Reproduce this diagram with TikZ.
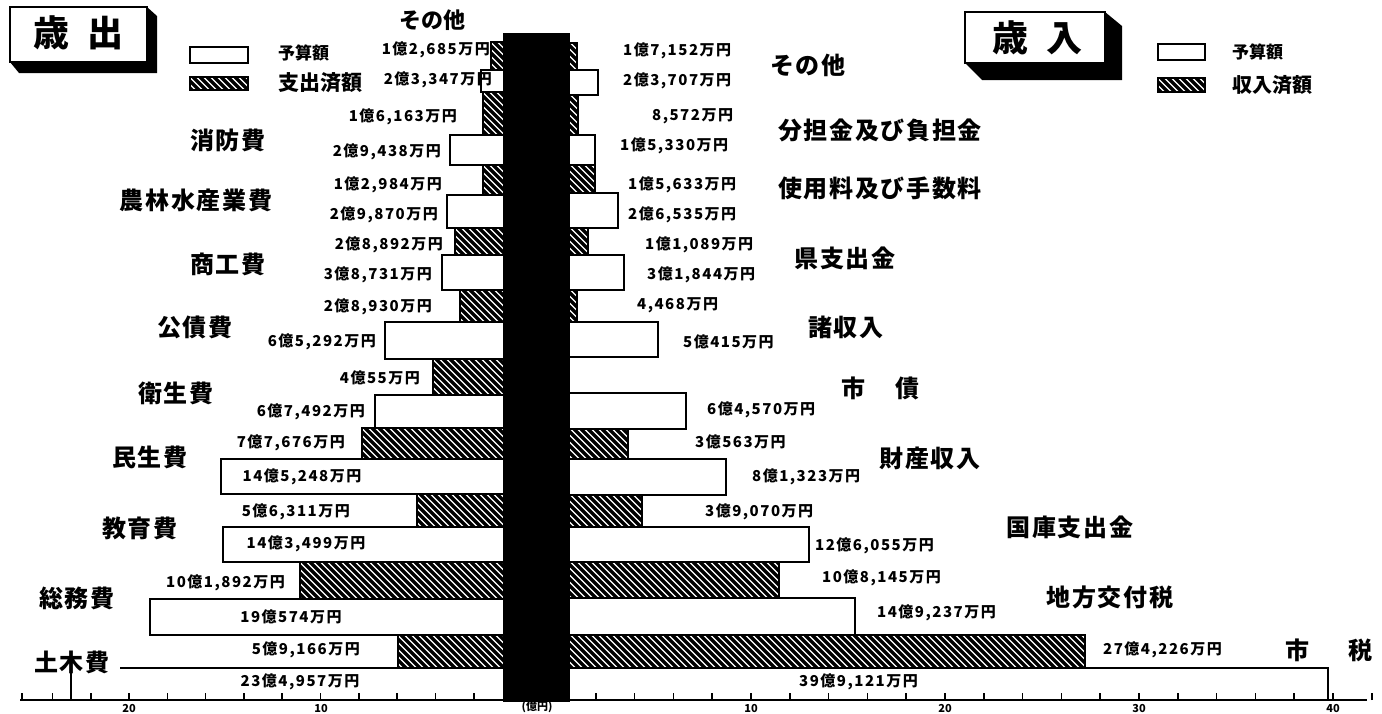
\documentclass[tikz,border=0pt]{standalone}
\usepackage{fontspec}
\setmainfont{Noto Sans CJK JP}
\begin{document}
\begin{tikzpicture}[x=1pt,y=-1pt,
  barline/.style={line width=2.4pt, line join=miter},
  hatchline/.style={line width=3.4pt},
  val/.style={font=\bfseries\fontsize{15}{15}\selectfont\addfontfeatures{LetterSpace=10}, inner sep=0pt},
  cat/.style={font=\bfseries\fontsize{24}{24}\selectfont\addfontfeatures{LetterSpace=7}, inner sep=0pt},
  leg/.style={font=\bfseries\fontsize{17}{17}\selectfont, inner sep=0pt, anchor=west},
  axl/.style={font=\bfseries\fontsize{11}{11}\selectfont, inner sep=0pt, anchor=south},
  ttl/.style={font=\bfseries\fontsize{36}{36}\selectfont, inner sep=0pt}]
\useasboundingbox (0,0) rectangle (1382,713);
\clip (0,0) rectangle (1382,713);
\fill[white] (0,0) rectangle (1382,713);
\newcommand\hatchbox[4]{%
  \pgfmathtruncatemacro\hbA{#1-46}\pgfmathtruncatemacro\hbB{\hbA+7}\pgfmathtruncatemacro\hbC{#3}%
  \begin{scope}
    \clip (#1,#2) rectangle (#3,#4);
    \fill[white] (#1,#2) rectangle (#3,#4);
    \foreach \s in {\hbA,\hbB,...,\hbC} \draw[hatchline] (\s,#2) -- ++(46,46);
  \end{scope}
  \draw[barline] (#1,#2) rectangle (#3,#4);}
\newcommand\whitebox[4]{\draw[barline,fill=white] (#1,#2) rectangle (#3,#4);}
% ---- title boxes
\fill (147,7) -- (157,16) -- (157,73) -- (19,73) -- (10,62) -- (147,62) -- cycle;
\draw[barline,fill=white] (10,7) rectangle (147,62);
\node[ttl] (tout) at (78,33) {歳\hspace{18pt}出};
\fill (1105,12) -- (1122,26) -- (1122,80) -- (982,80) -- (965,63) -- (1105,63) -- cycle;
\draw[barline,fill=white] (965,12) rectangle (1105,63);
\node[ttl] (tin) at (1037,38) {歳\hspace{18pt}入};
% ---- legends
\whitebox{190}{47}{248}{63}
\hatchbox{190}{77}{248}{90}
\node[leg] (lg1) at (278,53) {予算額};
\node[leg,font=\bfseries\fontsize{21}{21}\selectfont] (lg2) at (278,83) {支出済額};
\whitebox{1158}{44}{1205}{60}
\hatchbox{1158}{78}{1205}{92}
\node[leg] (rg1) at (1232,52) {予算額};
\node[leg,font=\bfseries\fontsize{20}{20}\selectfont] (rg2) at (1232,85) {収入済額};
% ---- left bars (expenditure)
\hatchbox{491}{42}{520}{70}
\whitebox{481}{70}{520}{92}
\hatchbox{483}{92}{520}{135}
\whitebox{450}{135}{520}{165}
\hatchbox{483}{165}{520}{195}
\whitebox{447}{195}{520}{228}
\hatchbox{455}{228}{520}{255}
\whitebox{442}{255}{520}{290}
\hatchbox{460}{290}{520}{322}
\whitebox{385}{322}{520}{359}
\hatchbox{433}{359}{520}{395}
\whitebox{375}{395}{520}{428}
\hatchbox{362}{428}{520}{459}
\whitebox{221}{459}{520}{494}
\hatchbox{417}{494}{520}{527}
\whitebox{223}{527}{520}{562}
\hatchbox{300}{562}{520}{599}
\whitebox{150}{599}{520}{635}
\hatchbox{398}{635}{520}{668}
\draw[barline] (120,668) -- (520,668);
% ---- right bars (revenue)
\hatchbox{550}{43}{577}{70}
\whitebox{550}{70}{598}{95}
\hatchbox{550}{95}{578}{135}
\whitebox{550}{135}{595}{165}
\hatchbox{550}{165}{595}{193}
\whitebox{550}{193}{618}{228}
\hatchbox{550}{228}{588}{255}
\whitebox{550}{255}{624}{290}
\hatchbox{550}{290}{577}{322}
\whitebox{550}{322}{658}{357}
\whitebox{550}{393}{686}{429}
\hatchbox{550}{429}{628}{459}
\whitebox{550}{459}{726}{495}
\hatchbox{550}{495}{642}{527}
\whitebox{550}{527}{809}{562}
\hatchbox{550}{562}{779}{598}
\whitebox{550}{598}{855}{635}
\hatchbox{550}{635}{1085}{668}
\draw[barline] (550,668) -- (1328,668) -- (1328,700);
% ---- central black bar
\fill (503,33) rectangle (570,702);
% ---- axis
\draw[line width=2.2pt] (20,700) -- (1367,700);
\foreach \k in {2,4,...,24} \draw[line width=1.6pt] ({512-19.15*\k},700) -- ++(0,-7);
\foreach \k in {2,4,...,42} \draw[line width=1.6pt] ({557+19.4*\k},700) -- ++(0,-7);
\draw[line width=1.6pt] (22,700) -- ++(0,-7);
\draw[line width=1.6pt] (71,672) -- (71,700);
\node[axl] (a1) at (129,713) {20};
\node[axl] (a2) at (321,713) {10};
\node[axl] (a3) at (537,713) {(億円)};
\node[axl] (a4) at (751,713) {10};
\node[axl] (a5) at (945,713) {20};
\node[axl] (a6) at (1139,713) {30};
\node[axl] (a7) at (1333,713) {40};
% ---- category labels, left
\node[cat,font=\bfseries\fontsize{22}{22}\selectfont] (c0) at (432,20) {その他};
\node[cat] (c1) at (228,140) {消防費};
\node[cat] (c2) at (196,200) {農林水産業費};
\node[cat] (c3) at (228,264) {商工費};
\node[cat] (c4) at (195,327) {公債費};
\node[cat] (c5) at (176,393) {衛生費};
\node[cat] (c6) at (150,457) {民生費};
\node[cat] (c7) at (140,528) {教育費};
\node[cat] (c8) at (77,598) {総務費};
\node[cat] (c9) at (72,662) {土木費};
% ---- category labels, right
\node[cat] (d0) at (808,65) {その他};
\node[cat] (d1) at (880,130) {分担金及び負担金};
\node[cat] (d2) at (880,188) {使用料及び手数料};
\node[cat] (d3) at (845,258) {県支出金};
\node[cat] (d4) at (846,327) {諸収入};
\node[cat] (d5) at (880,388) {市\hspace{30pt}債};
\node[cat] (d6) at (930,458) {財産収入};
\node[cat] (d7) at (1070,527) {国庫支出金};
\node[cat] (d8) at (1110,597) {地方交付税};
\node[cat] (d9) at (1329,650) {市\hspace{40pt}税};
% ---- value labels, left
\node[val,anchor=east] (l1) at (490,50) {1億2,685万円};
\node[val,anchor=east] (l2) at (492,80) {2億3,347万円};
\node[val,anchor=east] (l3) at (457,117) {1億6,163万円};
\node[val,anchor=east] (l4) at (441,152) {2億9,438万円};
\node[val,anchor=east] (l5) at (442,185) {1億2,984万円};
\node[val,anchor=east] (l6) at (438,215) {2億9,870万円};
\node[val,anchor=east] (l7) at (443,245) {2億8,892万円};
\node[val,anchor=east] (l8) at (432,275) {3億8,731万円};
\node[val,anchor=east] (l9) at (432,307) {2億8,930万円};
\node[val,anchor=east] (l10) at (376,342) {6億5,292万円};
\node[val,anchor=east] (l11) at (420,378) {4億55万円};
\node[val,anchor=east] (l12) at (365,412) {6億7,492万円};
\node[val,anchor=east] (l13) at (345,443) {7億7,676万円};
\node[val] (l14) at (302,477) {14億5,248万円};
\node[val,anchor=east] (l15) at (350,512) {5億6,311万円};
\node[val] (l16) at (306,544) {14億3,499万円};
\node[val,anchor=east] (l17) at (285,583) {10億1,892万円};
\node[val] (l18) at (291,617) {19億574万円};
\node[val,anchor=east] (l19) at (360,650) {5億9,166万円};
\node[val] (l20) at (300,682) {23億4,957万円};
% ---- value labels, right
\node[val,anchor=west] (r1) at (623,51) {1億7,152万円};
\node[val,anchor=west] (r2) at (623,81) {2億3,707万円};
\node[val,anchor=west] (r3) at (652,116) {8,572万円};
\node[val,anchor=west] (r4) at (620,146) {1億5,330万円};
\node[val,anchor=west] (r5) at (628,185) {1億5,633万円};
\node[val,anchor=west] (r6) at (628,215) {2億6,535万円};
\node[val,anchor=west] (r7) at (645,245) {1億1,089万円};
\node[val,anchor=west] (r8) at (647,275) {3億1,844万円};
\node[val,anchor=west] (r9) at (637,305) {4,468万円};
\node[val,anchor=west] (r10) at (683,342) {5億415万円};
\node[val,anchor=west] (r11) at (707,410) {6億4,570万円};
\node[val,anchor=west] (r12) at (695,442) {3億563万円};
\node[val,anchor=west] (r13) at (752,477) {8億1,323万円};
\node[val,anchor=west] (r14) at (705,512) {3億9,070万円};
\node[val,anchor=west] (r15) at (815,546) {12億6,055万円};
\node[val,anchor=west] (r16) at (822,578) {10億8,145万円};
\node[val,anchor=west] (r17) at (877,613) {14億9,237万円};
\node[val,anchor=west] (r18) at (1103,650) {27億4,226万円};
\node[val,anchor=west] (r19) at (799,682) {39億9,121万円};
\end{tikzpicture}
\end{document}
